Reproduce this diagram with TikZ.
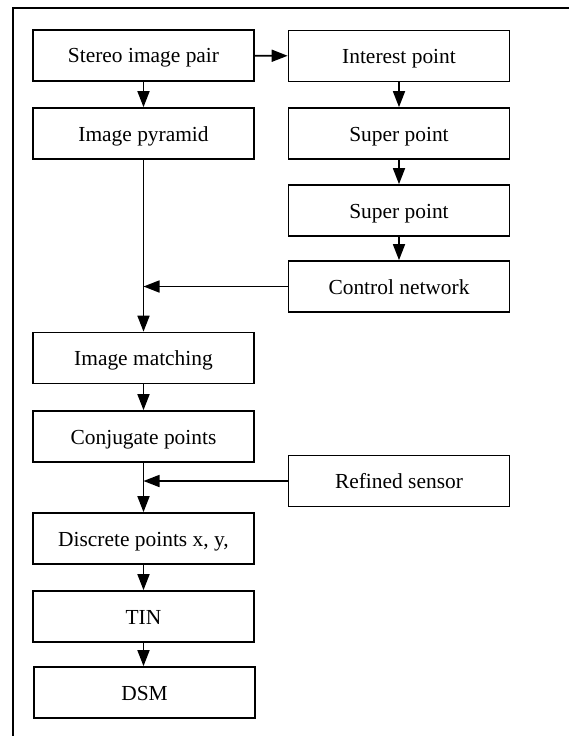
\documentclass[tikz,border=0pt]{standalone}
\usepackage{fontspec}
\setmainfont{Liberation Serif}
\usepackage{xcolor}
\usepackage{tikz}
\usetikzlibrary{calc,arrows.meta}
\definecolor{ink}{HTML}{000000}
\tikzset{
  stepBox/.style={draw=ink, line width=1.7bp, minimum width=221bp, minimum height=51bp,
    inner sep=0pt, text height=19bp, text depth=4bp,
    font=\fontsize{21.5}{24}\selectfont},
  flowArr/.style={draw=ink, line width=1.7bp, -{Triangle[length=16bp,width=12bp]}},
  frameLine/.style={draw=ink, line width=1.5bp},
}
\begin{document}
\begin{tikzpicture}[x=1bp,y=-1bp]
  \useasboundingbox (0,0) rectangle (569,736);
  \clip (0,0) rectangle (569,736);
  \draw[frameLine] (13,760) -- (13,8) -- (590,8);

  % left column
  \node[stepBox] (stereo)    at (143.5,55.5)  {Stereo image pair};
  \node[stepBox] (pyramid)   at (143.5,133.5) {Image pyramid};
  \node[stepBox] (matching)  at (143.5,358)   {Image matching};
  \node[stepBox] (conjugate) at (143.5,436.5) {Conjugate points};
  \node[stepBox] (discrete)  at (143.5,538.5) {Discrete points x, y,};
  \node[stepBox] (tin)       at (143.5,616.5) {TIN};
  \node[stepBox] (dsm)       at (144.5,692.5) {DSM};

  % right column
  \node[stepBox] (interest)  at (399,56)    {Interest point};
  \node[stepBox] (superA)    at (399,133.5) {Super point};
  \node[stepBox] (superB)    at (399,210.5) {Super point};
  \node[stepBox] (control)   at (399,286.5) {Control network};
  \node[stepBox] (refined)   at (399,481)   {Refined sensor};

  \coordinate (cnJoin) at (pyramid.south |- control.west);
  \coordinate (rsJoin) at (conjugate.south |- refined.west);

  \draw[flowArr] (stereo) -- (pyramid);
  \draw[flowArr] (stereo) -- (interest);
  \draw[flowArr] (interest) -- (superA);
  \draw[flowArr] (superA) -- (superB);
  \draw[flowArr] (superB) -- (control);
  \draw[flowArr] (control) -- (cnJoin);
  \draw[flowArr] (pyramid) -- (matching);
  \draw[flowArr] (matching) -- (conjugate);
  \draw[flowArr] (refined) -- (rsJoin);
  \draw[flowArr] (conjugate) -- (discrete);
  \draw[flowArr] (discrete) -- (tin);
  \draw[flowArr] (tin.south) -- (tin.south |- dsm.north);
\end{tikzpicture}
\end{document}
